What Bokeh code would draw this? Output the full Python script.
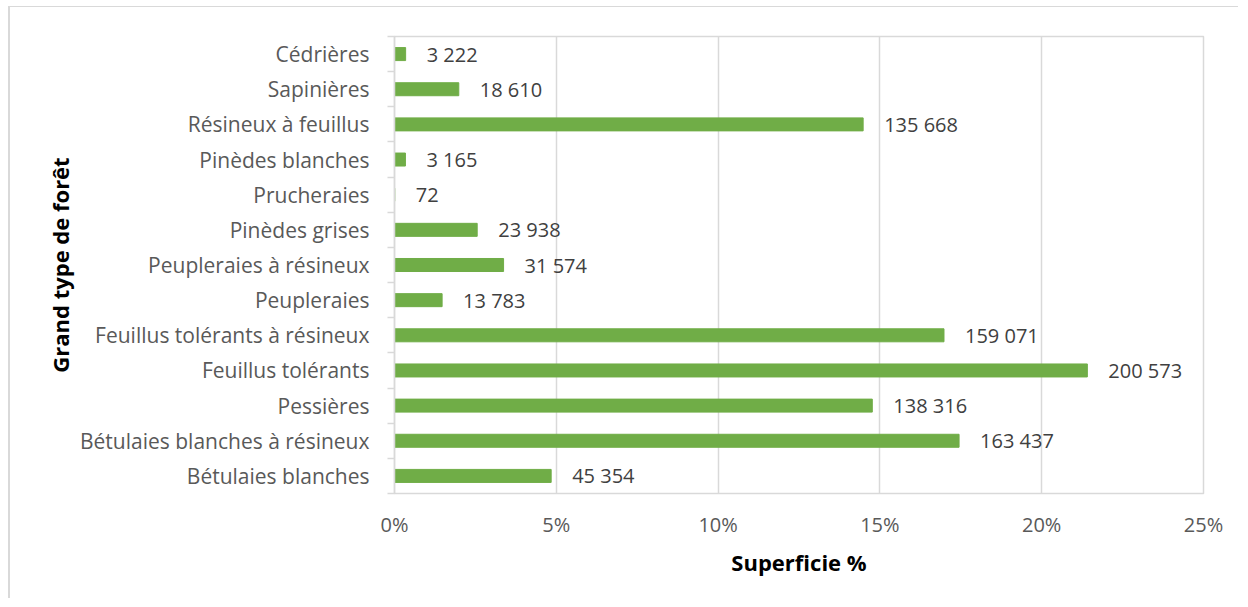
from bokeh.plotting import figure
from bokeh.models import ColumnDataSource, FixedTicker, Range1d
from bokeh.core.properties import value
from bokeh.embed import file_html
from bokeh.resources import INLINE

categories = ["Cédrières", "Sapinières", "Résineux à feuillus", "Pinèdes blanches",
              "Prucheraies", "Pinèdes grises", "Peupleraies à résineux", "Peupleraies",
              "Feuillus tolérants à résineux", "Feuillus tolérants", "Pessières",
              "Bétulaies blanches à résineux", "Bétulaies blanches"]
areas = [3222, 18610, 135668, 3165, 72, 23938, 31574, 13783, 159071, 200573, 138316, 163437, 45354]
x_ticks = [0, 5, 10, 15, 20, 25]

FONT = "Open Sans"
total = sum(areas)
n = len(categories)
pct = [a / total * 100 for a in areas]
ypos = [n - i - 0.5 for i in range(n)]
labels = [f"{a:,}".replace(",", " ") for a in areas]

src = ColumnDataSource(dict(y=ypos, pct=pct, lab=labels, cat=categories))

p = figure(width=1230, height=592, output_backend="svg", toolbar_location=None,
           x_range=Range1d(0, 25), y_range=Range1d(0, n),
           min_border_left=384, min_border_right=37, min_border_top=29, min_border_bottom=106,
           outline_line_color="#d9d9d9", outline_line_width=1.5,
           background_fill_color="white", border_fill_color="white")
p.styles = {"border-left": "2px solid #d9d9d9", "border-top": "1px solid #d9d9d9",
            "margin-left": "8px", "margin-top": "6px"}

p.hbar(y="y", right="pct", left=0, height=0.37, source=src, color="#70AD47")
p.text(x="pct", y="y", text="lab", source=src, x_offset=21, text_align="left",
       text_baseline="middle", text_font=value(FONT), text_font_size="20px",
       text_color="#404040")

# x axis
p.xaxis.ticker = FixedTicker(ticks=x_ticks)
p.xaxis.major_label_overrides = {t: f"{t}%" for t in x_ticks}
p.xaxis.axis_line_color = None
p.xaxis.major_tick_line_color = None
p.xaxis.minor_tick_line_color = None
p.xaxis.major_label_standoff = 11
p.xaxis.major_label_text_font = FONT
p.xaxis.major_label_text_font_size = "20px"
p.xaxis.major_label_text_color = "#595959"
p.xaxis.axis_label = "Superficie %"
p.xaxis.axis_label_text_font = FONT
p.xaxis.axis_label_text_font_size = "22px"
p.xaxis.axis_label_text_font_style = "bold"
p.xaxis.axis_label_text_color = "black"
p.xaxis.axis_label_standoff = 6

# y axis
p.yaxis.ticker = FixedTicker(ticks=ypos, minor_ticks=list(range(n + 1)))
p.yaxis.major_label_overrides = {y: c for y, c in zip(ypos, categories)}
p.yaxis.axis_line_color = "#d9d9d9"
p.yaxis.axis_line_width = 1.5
p.yaxis.major_tick_line_color = None
p.yaxis.minor_tick_line_color = "#d9d9d9"
p.yaxis.minor_tick_line_width = 1.5
p.yaxis.minor_tick_out = 7
p.yaxis.minor_tick_in = 0
p.yaxis.major_label_standoff = 18
p.yaxis.major_label_text_font = FONT
p.yaxis.major_label_text_font_size = "21px"
p.yaxis.major_label_text_color = "#595959"
p.yaxis.axis_label = "Grand type de forêt"
p.yaxis.axis_label_text_font = FONT
p.yaxis.axis_label_text_font_size = "22px"
p.yaxis.axis_label_text_font_style = "bold"
p.yaxis.axis_label_text_color = "black"
p.yaxis.axis_label_standoff = 2

p.xgrid.ticker = FixedTicker(ticks=x_ticks)
p.xgrid.grid_line_color = "#d9d9d9"
p.xgrid.grid_line_width = 1.5
p.ygrid.grid_line_color = None

open("out.html", "w").write(file_html(p, INLINE))
